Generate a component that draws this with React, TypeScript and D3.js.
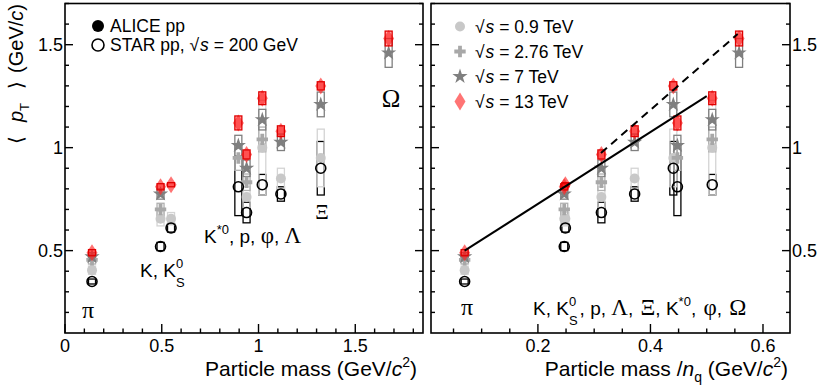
import React from 'react';
import * as d3 from 'd3';

// particle species, in the order used by all arrays below
const particles = ['π', 'K', 'K0S', 'K*0', 'p', 'φ', 'Λ', 'Ξ', 'Ω'];
// x position in the left panel (mass, K0S shifted a bit for visibility)
const massShown = [0.1396, 0.4937, 0.548, 0.8958, 0.9383, 1.0195, 1.1157, 1.3217, 1.6725];
// x position in the right panel (mass / number of constituent quarks)
const massNq = [0.0698, 0.2468, 0.2488, 0.4479, 0.3128, 0.5098, 0.3719, 0.4406, 0.5575];

// <pT> values (GeV/c), NaN = not measured
const pt09 = [0.405, 0.655, 0.655, NaN, 0.76, 1.0, 0.85, 0.95, NaN];
const pt276 = [0.455, 0.70, NaN, 0.95, 0.832, 1.04, NaN, NaN, NaN];
const pt7 = [0.47, 0.775, NaN, 1.01, 0.9, 1.136, 1.026, 1.21, 1.46];
const pt13 = [0.49, 0.81, 0.82, 1.12, 0.967, 1.24, 1.08, 1.3, 1.53];
const ptStar = [0.35, 0.52, 0.61, 0.81, 0.685, 0.82, 0.775, 0.9, NaN];

// systematic uncertainties (boxes)
const sys09 = [0.02, 0.035, 0.03, NaN, 0.05, 0.23, 0.05, 0.14, NaN];
const sys276 = [0.02, 0.03, NaN, 0.06, 0.04, 0.06, NaN, NaN, NaN];
const sys7 = [0.02, 0.025, NaN, 0.05, 0.04, 0.05, 0.04, 0.06, 0.07];
const sys13 = [0.015, 0.015, 0.01, 0.034, 0.022, 0.031, 0.026, 0.02, 0.036];
const sysStar = [0.012, 0.02, 0.02, 0.14, 0.05, 0.05, 0.035, 0.13, NaN];

// straight lines in the right panel: [x, <pT>] end points
const mesonLine = [[0.0698, 0.5], [0.5, 1.25]];
const baryonLine = [[0.312, 0.974], [0.555, 1.552]];

const legendEnergies = ['0.9', '2.76', '7', '13'];

const SANS = '"Liberation Sans", Arial, Helvetica, sans-serif';
const SERIF = '"Liberation Serif", "Times New Roman", serif';

const y = d3.scaleLinear().domain([0.1, 1.7]).range([333, 3.5]);
const xLeft = d3.scaleLinear().domain([0, 1.85]).range([65, 423]);
const xRight = d3.scaleLinear().domain([0.01, 0.648]).range([431, 790]);

const starPath = d3.symbol(d3.symbolStar, 72)()!;
const crossPath = d3.symbol(d3.symbolCross, 72)()!;
const diamondPath = (w: number, h: number) => `M0,${-h}L${w},0L0,${h}L${-w},0Z`;

const series = [
  { vals: pt09, sys: sys09, kind: 'circle', color: '#c8c8c8', box: '#d4d4d4' },
  { vals: pt276, sys: sys276, kind: 'cross', color: '#a8a8a8', box: '#b0b0b0' },
  { vals: pt7, sys: sys7, kind: 'star', color: '#7f7f7f', box: '#7f7f7f' },
];

function Marker({ kind, cx, cy, color }: any) {
  if (kind === 'circle') return <circle cx={cx} cy={cy} r={5} fill={color} />;
  if (kind === 'open') return <circle cx={cx} cy={cy} r={5} fill="none" stroke="#000" strokeWidth={1.6} />;
  if (kind === 'cross') return <path d={crossPath} transform={`translate(${cx},${cy})`} fill={color} />;
  if (kind === 'star') return <path d={starPath} transform={`translate(${cx},${cy})`} fill={color} />;
  return <path d={diamondPath(5.5, 8.5)} transform={`translate(${cx},${cy})`} fill="#ff2a2a" fillOpacity={0.65} />;
}

function Points({ xs, x }: { xs: number[]; x: d3.ScaleLinear<number, number> }) {
  const bw = 3.5;
  const box = (i: number, v: number[], s: number[], stroke: string, key: string, fill = 'none') =>
    isNaN(v[i]) ? null : (
      <rect key={key + i} x={x(xs[i]) - bw} y={y(v[i] + s[i])} width={bw * 2}
        height={y(v[i] - s[i]) - y(v[i] + s[i])} fill={fill} stroke={stroke} strokeWidth={1.3} />
    );
  const idx = particles.map((_, i) => i);
  return (
    <g>
      {idx.map(i => box(i, ptStar, sysStar, '#000', 'bs'))}
      {series.map((s, k) => <g key={'sb' + k}>{idx.map(i => box(i, s.vals, s.sys, s.box, 'b' + k))}</g>)}
      {series.map((s, k) => (
        <g key={'sm' + k}>
          {idx.map(i => isNaN(s.vals[i]) ? null :
            <Marker key={i} kind={s.kind} cx={x(xs[i])} cy={y(s.vals[i])} color={s.color} />)}
        </g>
      ))}
      {idx.map(i => isNaN(ptStar[i]) ? null : <Marker key={'st' + i} kind="open" cx={x(xs[i])} cy={y(ptStar[i])} />)}
      {idx.map(i => <Marker key={'d' + i} kind="diamond" cx={x(xs[i])} cy={y(pt13[i])} />)}
      {idx.map(i => box(i, pt13, sys13, '#e00000', 'br', 'rgba(255,0,0,0.3)'))}
    </g>
  );
}

function Frame({ x, major, minor, labelsLeft, labelsRight, fmt }: any) {
  const yMajor = [0.5, 1, 1.5];
  const yMinor = d3.range(2, 18).map(v => v / 10).filter(v => !yMajor.some(m => Math.abs(m - v) < 1e-6));
  const [x0, x1] = x.range();
  const bottom = y(0.1);
  return (
    <g stroke="#000" strokeWidth={1.4}>
      <rect x={x0} y={y(1.7)} width={x1 - x0} height={bottom - y(1.7)} fill="none" strokeWidth={1.6} />
      {major.map((v: number) => <line key={'xM' + v} x1={x(v)} x2={x(v)} y1={bottom} y2={bottom - 9} />)}
      {minor.map((v: number) => <line key={'xm' + v} x1={x(v)} x2={x(v)} y1={bottom} y2={bottom - 4.5} />)}
      {yMajor.map(v => <g key={'yM' + v}>
        <line x1={x0} x2={x0 + 8} y1={y(v)} y2={y(v)} />
        <line x1={x1} x2={x1 - 8} y1={y(v)} y2={y(v)} />
      </g>)}
      {yMinor.map(v => <g key={'ym' + v}>
        <line x1={x0} x2={x0 + 4} y1={y(v)} y2={y(v)} />
        <line x1={x1} x2={x1 - 4} y1={y(v)} y2={y(v)} />
      </g>)}
      <g stroke="none" fill="#000" fontFamily={SANS} fontSize={18}>
        {major.map((v: number) => <text key={'xl' + v} x={x(v)} y={352} textAnchor="middle">{fmt(v)}</text>)}
        {labelsLeft && yMajor.map(v => <text key={'yl' + v} x={x0 - 2} y={y(v) + 6.5} textAnchor="end">{v === 1 ? '1' : v}</text>)}
        {labelsRight && yMajor.map(v => <text key={'yr' + v} x={x1 + 2} y={y(v) + 6.5} textAnchor="start">{v === 1 ? '1' : v}</text>)}
      </g>
    </g>
  );
}

const Sqrt = () => (
  <>
    <tspan>√</tspan><tspan fontStyle="italic" dx={1}>s</tspan>
  </>
);

export default function App() {
  const leftMajor = [0, 0.5, 1, 1.5];
  const leftMinor = d3.range(1, 19).map(v => v / 10).filter(v => !leftMajor.some(m => Math.abs(m - v) < 1e-6));
  const rightMajor = [0.2, 0.4, 0.6];
  const rightMinor = d3.range(1, 13).map(v => v * 0.05).filter(v => !rightMajor.some(m => Math.abs(m - v) < 1e-6));
  const line = d3.line<number[]>().x(d => xRight(d[0])).y(d => y(d[1]));

  return (
    <svg width={830} height={388} style={{ position: 'absolute', left: 0, top: 0, background: '#fff' }}>
      <rect width={830} height={388} fill="#fff" />
      {/* left panel */}
      <Points xs={massShown} x={xLeft} />
      <Frame x={xLeft} major={leftMajor} minor={leftMinor} labelsLeft fmt={(v: number) => String(v)} />

      {/* right panel */}
      <Points xs={massNq} x={xRight} />
      <path d={line(mesonLine)!} stroke="#000" strokeWidth={2} fill="none" />
      <path d={line(baryonLine)!} stroke="#000" strokeWidth={2} fill="none" strokeDasharray="8,5.5" />
      <Frame x={xRight} major={rightMajor} minor={rightMinor} labelsRight fmt={(v: number) => String(v)} />

      {/* left legend */}
      <g fontFamily={SANS} fontSize={17.5} fill="#000">
        <circle cx={98} cy={26} r={6} fill="#000" />
        <text x={110} y={32}>ALICE pp</text>
        <circle cx={98} cy={45} r={6} fill="none" stroke="#000" strokeWidth={1.6} />
        <text x={110} y={51}>STAR pp, <Sqrt /> = 200 GeV</text>
      </g>

      {/* right legend */}
      <g fontFamily={SANS} fontSize={17.5} fill="#000">
        {legendEnergies.map((e, i) => {
          const cy = 26.5 + i * 25;
          const kind = ['circle', 'cross', 'star', 'diamond'][i];
          const color = ['#c8c8c8', '#a8a8a8', '#7f7f7f', '#ff2a2a'][i];
          return (
            <g key={e}>
              {kind === 'diamond'
                ? <path d={diamondPath(5.5, 9)} transform={`translate(460,${cy})`} fill="#ff2a2a" fillOpacity={0.65} />
                : <Marker kind={kind} cx={460} cy={cy} color={color} />}
              <text x={475} y={cy + 6}><Sqrt /> = {e} TeV</text>
            </g>
          );
        })}
      </g>

      {/* particle labels */}
      <g fontFamily={SANS} fontSize={19} fill="#000">
        <text x={88} y={318} textAnchor="middle" fontFamily={SERIF} fontSize={24}>π</text>
        <text x={140} y={277}>K, K<tspan fontSize={13} dy={-9}>0</tspan><tspan fontSize={13} dx={-7.2} dy={19}>S</tspan></text>
        <text x={204} y={243}>K<tspan fontSize={13} dy={-9}>*0</tspan><tspan dy={9}>, p, </tspan>
          <tspan fontFamily={SERIF} fontSize={23}>φ</tspan>, <tspan fontFamily={SERIF} fontSize={23}>Λ</tspan></text>
        <text x={322} y={219} textAnchor="middle" fontFamily={SERIF} fontSize={21}>Ξ</text>
        <text x={391} y={107} textAnchor="middle" fontFamily={SERIF} fontSize={25}>Ω</text>

        <text x={467} y={315} textAnchor="middle" fontFamily={SERIF} fontSize={24}>π</text>
        <text x={533} y={315}>K, K<tspan fontSize={13} dy={-9}>0</tspan><tspan fontSize={13} dx={-7.2} dy={19}>S</tspan>
          <tspan dy={-10} dx={2}>, p, </tspan><tspan fontFamily={SERIF} fontSize={23}>Λ</tspan>, <tspan fontFamily={SERIF} fontSize={23} dx={2}>Ξ</tspan>, K<tspan fontSize={13} dy={-9}>*0</tspan>
          <tspan dy={9}>, </tspan><tspan fontFamily={SERIF} fontSize={23} dx={2}>φ</tspan>, <tspan fontFamily={SERIF} fontSize={23} dx={2}>Ω</tspan></text>
      </g>

      {/* axis titles */}
      <g fontFamily={SANS} fontSize={21} fill="#000">
        <text x={417} y={376} textAnchor="end">Particle mass (GeV/<tspan fontStyle="italic">c</tspan><tspan fontSize={14} dy={-9}>2</tspan><tspan dy={9}>)</tspan></text>
        <text x={788} y={376} textAnchor="end">Particle mass /<tspan fontStyle="italic">n</tspan><tspan fontSize={14} dy={6}>q</tspan><tspan dy={-6}> (GeV/</tspan><tspan fontStyle="italic">c</tspan><tspan fontSize={14} dy={-9}>2</tspan><tspan dy={9}>)</tspan></text>
        <text transform="translate(23,4) rotate(-90)" textAnchor="end" fontSize={20}>⟨<tspan fontStyle="italic" dx={14}>p</tspan><tspan fontSize={13} dy={6}>T</tspan><tspan dy={-6} dx={14}>⟩</tspan><tspan dx={8}>(GeV/</tspan><tspan fontStyle="italic">c</tspan>)</text>
      </g>
    </svg>
  );
}
